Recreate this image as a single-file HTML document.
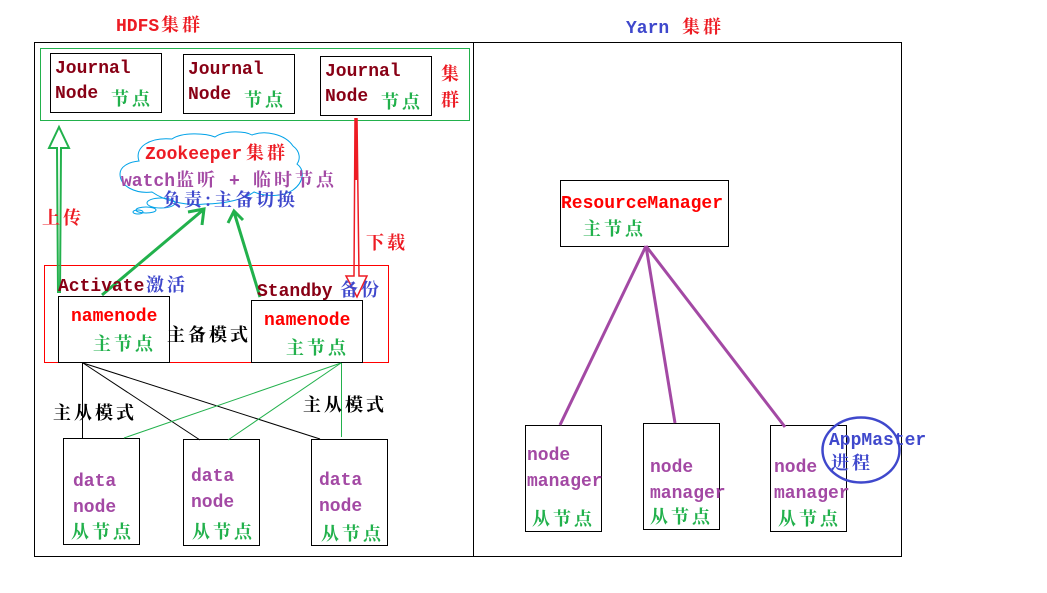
<!DOCTYPE html>
<html>
<head>
<meta charset="utf-8">
<style>
html,body{margin:0;padding:0;background:#fff;width:1047px;height:593px;overflow:hidden}
svg{display:block}
text{font-family:"Liberation Mono","Noto Serif CJK SC",monospace;font-size:18px;font-weight:bold}
.c{font-family:"Noto Serif CJK SC","Noto Sans CJK SC",serif;font-size:18px;letter-spacing:3px;font-weight:bold}
.dr{fill:#880015}.r{fill:#ed1c24}.rr{fill:#ff0000}.g{fill:#22b14c}.p{fill:#a349a4}.b{fill:#3f48cc}.k{fill:#000}
.box{fill:none;stroke:#000;stroke-width:1}
</style>
</head>
<body>
<svg width="1047" height="593" viewBox="0 0 1047 593" xmlns="http://www.w3.org/2000/svg">
<rect width="1047" height="593" fill="#fff"/>

<!-- outer -->
<rect x="34.5" y="42.5" width="867" height="514" class="box"/>
<line x1="473.5" y1="42" x2="473.5" y2="557" stroke="#000"/>
<rect x="40.5" y="48.5" width="429" height="72" fill="none" stroke="#22b14c"/>
<rect x="44.5" y="265.5" width="344" height="97" fill="none" stroke="#ff0000"/>

<!-- journal boxes -->
<rect x="50.5" y="53.5" width="111" height="59" class="box"/>
<rect x="183.5" y="54.5" width="111" height="59" class="box"/>
<rect x="320.5" y="56.5" width="111" height="59" class="box"/>

<!-- namenode boxes -->
<rect x="58.5" y="296.5" width="111" height="66" class="box"/>
<rect x="251.5" y="300.5" width="111" height="62" class="box"/>

<!-- data boxes -->
<rect x="63.5" y="438.5" width="76" height="106" class="box"/>
<rect x="183.5" y="439.5" width="76" height="106" class="box"/>
<rect x="311.5" y="439.5" width="76" height="106" class="box"/>

<!-- yarn boxes -->
<rect x="560.5" y="180.5" width="168" height="66" class="box"/>
<rect x="525.5" y="425.5" width="76" height="106" class="box"/>
<rect x="643.5" y="423.5" width="76" height="106" class="box"/>
<rect x="770.5" y="425.5" width="76" height="106" class="box"/>

<!-- thin connectors -->
<g fill="none" stroke="#000" stroke-width="1">
<path d="M82.5 363V438"/>
<path d="M83 363L200 440"/>
<path d="M83 363L320 439"/>
</g>
<g fill="none" stroke="#22b14c" stroke-width="1">
<path d="M341 363L124 438"/>
<path d="M341 363L228 440"/>
<path d="M341.5 363V437"/>
</g>

<!-- purple lines -->
<g fill="none" stroke="#a349a4" stroke-width="3">
<path d="M646 246L560 425"/>
<path d="M646 246L675 423"/>
<path d="M646 246L785 427"/>
</g>

<!-- cloud -->
<g fill="none" stroke="#00a2e8" stroke-width="1">
<path d="M139 161C134 147 150 137 172 139C182 132 205 133 215 137C225 130 245 131 252 135C265 130 285 134 293 146C301 152 300 160 297 164C305 170 304 182 293 190C283 197 265 197 254 192C245 199 225 204 205 204C185 206 165 201 152 192C135 194 120 186 120 174C120 167 128 162 139 161Z"/>
<ellipse cx="161" cy="203" rx="14" ry="5"/>
<ellipse cx="146" cy="210" rx="10" ry="3"/>
<ellipse cx="138" cy="212" rx="5" ry="2"/>
</g>

<!-- upload arrow -->
<g fill="none" stroke="#22b14c" stroke-width="2">
<path d="M58 293L57 148H49L59 127L69 148H61L60 293"/>
</g>
<!-- green thick arrows -->
<g fill="none" stroke="#22b14c" stroke-width="3">
<path d="M102 295L203 210M188 212L204 209L202 225"/>
<path d="M260 297L234 212M228 223L234 211L243 220"/>
</g>
<!-- red arrow -->
<g fill="none" stroke="#ed1c24" stroke-width="1.5">
<path d="M355 118L354 276H346L357 297L367 276H359L357 118"/>
</g>
<line x1="356" y1="118" x2="356" y2="180" stroke="#ed1c24" stroke-width="2"/>

<!-- ellipse -->
<ellipse cx="861" cy="450" rx="38.5" ry="32.5" fill="none" stroke="#3f48cc" stroke-width="2.5"/>

<!-- titles -->
<text x="116" y="31" class="r">HDFS</text><text x="161" y="31" class="c r">集群</text>
<text x="626" y="33" class="b">Yarn</text><text x="682" y="33" class="c r">集群</text>

<!-- journal -->
<text x="55" y="73" class="dr">Journal</text><text x="55" y="98" class="dr">Node</text><text x="111" y="105" class="c g">节点</text>
<text x="188" y="74" class="dr">Journal</text><text x="188" y="99" class="dr">Node</text><text x="244" y="106" class="c g">节点</text>
<text x="325" y="76" class="dr">Journal</text><text x="325" y="101" class="dr">Node</text><text x="381" y="108" class="c g">节点</text>
<text x="441" y="80" class="c r">集</text><text x="441" y="106" class="c r">群</text>

<!-- zookeeper -->
<text x="145" y="159" class="r">Zookeeper</text><text x="246" y="159" class="c r">集群</text>
<text x="121" y="186" class="p">watch</text><text x="176" y="186" class="c p">监听</text><text x="229" y="186" class="p">+</text><text x="253" y="186" class="c p">临时节点</text>
<text x="163" y="206" class="c b">负责:主备切换</text>

<text x="42" y="224" class="c r">上传</text>
<text x="366" y="249" class="c r">下载</text>

<!-- active/standby -->
<text x="58" y="291" class="dr">Activate</text><text x="146" y="291" class="c b">激活</text>
<text x="257" y="296" class="dr">Standby</text><text x="340" y="296" class="c b">备份</text>
<text x="71" y="321" class="rr">namenode</text>
<text x="264" y="325" class="rr">namenode</text>
<text x="93" y="350" class="c g">主节点</text>
<text x="286" y="354" class="c g">主节点</text>
<text x="167" y="341" class="c k">主备模式</text>
<text x="53" y="419" class="c k">主从模式</text>
<text x="303" y="411" class="c k">主从模式</text>

<!-- data -->
<text x="73" y="486" class="p">data</text><text x="73" y="512" class="p">node</text><text x="71" y="538" class="c g">从节点</text>
<text x="191" y="481" class="p">data</text><text x="191" y="507" class="p">node</text><text x="192" y="538" class="c g">从节点</text>
<text x="319" y="485" class="p">data</text><text x="319" y="511" class="p">node</text><text x="321" y="540" class="c g">从节点</text>

<!-- yarn -->
<text x="561" y="208" class="rr">ResourceManager</text>
<text x="583" y="235" class="c g">主节点</text>
<text x="527" y="460" class="p">node</text><text x="527" y="486" class="p">manager</text><text x="532" y="525" class="c g">从节点</text>
<text x="650" y="472" class="p">node</text><text x="650" y="498" class="p">manager</text><text x="650" y="523" class="c g">从节点</text>
<text x="774" y="472" class="p">node</text><text x="774" y="498" class="p">manager</text><text x="778" y="525" class="c g">从节点</text>
<text x="829" y="445" class="b">AppMaster</text>
<text x="831" y="469" class="c b">进程</text>
</svg>
</body>
</html>
